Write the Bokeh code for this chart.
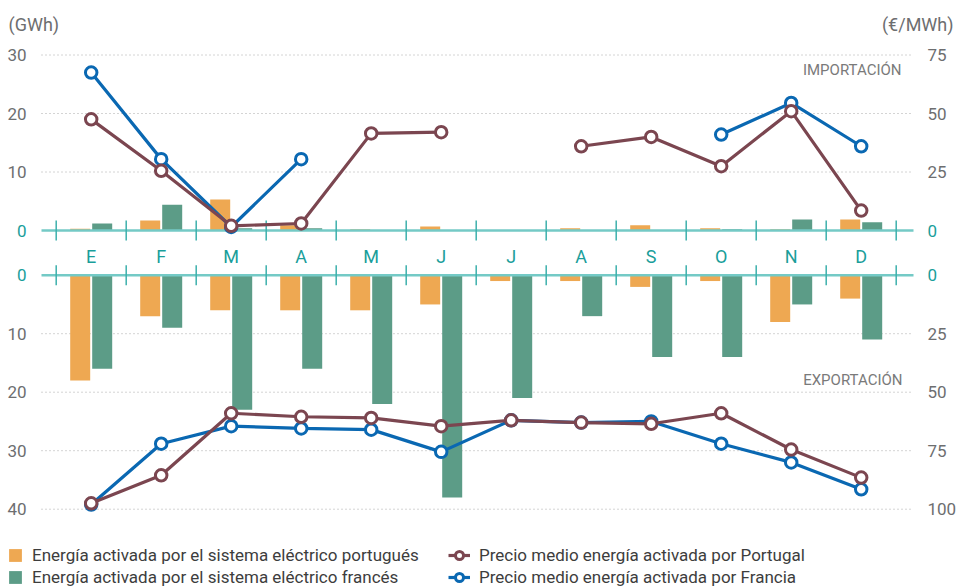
from bokeh.plotting import figure
from bokeh.models import Range1d, Legend, LegendItem, Label
from bokeh.core.properties import value
from bokeh.embed import file_html
from bokeh.resources import INLINE

nan = float("nan")

# ---------------- data ----------------
months = ["E", "F", "M", "A", "M", "J", "J", "A", "S", "O", "N", "D"]
# Importación (GWh)
imp_pt = [0.3, 1.7, 5.3, 0.9, 0.2, 0.7, 0.1, 0.4, 0.9, 0.4, 0.2, 1.9]
imp_fr = [1.2, 4.4, 0.4, 0.4, 0.0, 0.0, 0.0, 0.0, 0.0, 0.2, 1.9, 1.4]
# Exportación (GWh)
exp_pt = [18, 7, 6, 6, 6, 5, 1, 1, 2, 1, 8, 4]
exp_fr = [16, 9, 23, 16, 22, 38, 21, 7, 14, 14, 5, 11]
# Precio medio importación (€/MWh)
imp_price_pt = [47.5, 25.5, 2.0, 3.0, 41.5, 42.0, nan, 36.0, 40.0, 27.5, 51.0, 8.5]
imp_price_fr = [67.5, 30.5, 1.5, 30.5, nan, nan, nan, nan, nan, 41.0, 54.5, 36.0]
# Precio medio exportación (€/MWh)
exp_price_pt = [97.5, 85.5, 59.0, 60.5, 61.0, 64.5, 62.0, 63.0, 63.5, 59.0, 74.5, 86.5]
exp_price_fr = [98.0, 72.0, 64.5, 65.5, 66.0, 75.5, 62.0, 63.0, 62.5, 72.0, 80.0, 91.5]

gwh_ticks_top = [10, 20, 30]
gwh_ticks_bot = [10, 20, 30, 40]
eur_ticks_top = [25, 50, 75]
eur_ticks_bot = [25, 50, 75, 100]

legend_labels = [
    "Energía activada por el sistema eléctrico portugués",
    "Energía activada por el sistema eléctrico francés",
    "Precio medio energía activada por Portugal",
    "Precio medio energía activada por Francia",
]

# ---------------- styles ----------------
C_ORANGE = "#EEA852"
C_GREEN = "#5C9C87"
C_MAROON = "#7B4650"
C_BLUE = "#0A68B2"
C_TEAL_LINE = "#74CAC6"
C_TEAL_TICK = "#3DB0AC"
C_TEAL_TXT = "#1A9E9A"
C_GRAY = "#6D6E70"
C_GRID = "#A8A8A8"
FONT = "Roboto"

# ---------------- geometry (page px; frame = whole canvas) ----------------
W, H = 956, 587
LEFT, TOP = 0, 0
X0, PX_MONTH = 90.7, 70.0        # page x of first month centre, px per month
PLOT_L, PLOT_R = 41, 913         # extent of zero lines / grid lines
Z_TOP, Z_BOT = 230.0, 274.7      # page y of the two zero lines
S = 5.85                         # px per GWh
K = 2.5                          # €/MWh per GWh on the scale


def xd(px):
    return (px - X0) / PX_MONTH


def yt(py):
    return (Z_TOP - py) / S


x_start, x_end = xd(LEFT), xd(LEFT + W)
top_end, top_start = yt(TOP), yt(TOP + H)
bot_top = -(Z_BOT - TOP) / S
bot_bottom = (TOP + H - Z_BOT) / S

p = figure(width=W, height=H, output_backend="svg", toolbar_location=None,
           title=None, x_range=Range1d(x_start, x_end),
           y_range=Range1d(top_start, top_end),
           min_border_left=0, min_border_right=0,
           min_border_top=0, min_border_bottom=0,
           x_axis_location=None, y_axis_location=None)
p.extra_y_ranges = {
    "bot": Range1d(bot_bottom, bot_top),
    "ptop": Range1d(top_start * K, top_end * K),
    "pbot": Range1d(bot_bottom * K, bot_top * K),
}
p.outline_line_color = None
p.background_fill_color = "white"
p.border_fill_color = "white"
p.grid.visible = False

xl, xr = xd(PLOT_L), xd(PLOT_R)

# grid lines (dotted) at tick values
p.segment(x0=[xl] * len(gwh_ticks_top), x1=[xr] * len(gwh_ticks_top),
          y0=gwh_ticks_top, y1=gwh_ticks_top, line_color=C_GRID,
          line_width=1, line_dash="1 3")
p.segment(x0=[xl] * len(gwh_ticks_bot), x1=[xr] * len(gwh_ticks_bot),
          y0=gwh_ticks_bot, y1=gwh_ticks_bot, line_color=C_GRID,
          line_width=1, line_dash="1 3", y_range_name="bot")

# tick labels
tick_style = dict(text_font=value(FONT), text_font_size="17px", text_baseline="middle")
xlab_l, xlab_r = xd(26), xd(927)
p.text(x=[xlab_l] * 3, y=gwh_ticks_top, text=[str(v) for v in gwh_ticks_top],
       text_align="right", text_color=C_GRAY, **tick_style)
p.text(x=[xlab_l] * 4, y=gwh_ticks_bot, text=[str(v) for v in gwh_ticks_bot],
       text_align="right", text_color=C_GRAY, y_range_name="bot", **tick_style)
p.text(x=[xlab_r] * 3, y=eur_ticks_top, text=[str(v) for v in eur_ticks_top],
       text_align="left", text_color=C_GRAY, y_range_name="ptop", **tick_style)
p.text(x=[xlab_r] * 4, y=eur_ticks_bot, text=[str(v) for v in eur_ticks_bot],
       text_align="left", text_color=C_GRAY, y_range_name="pbot", **tick_style)
for rng in ("default", "bot"):
    p.text(x=[xlab_l], y=[0], text=["0"], text_align="right", text_color=C_TEAL_TXT,
           y_range_name=rng, **tick_style)
    p.text(x=[xlab_r], y=[0], text=["0"], text_align="left", text_color=C_TEAL_TXT,
           y_range_name=rng, **tick_style)

# bars
idx = list(range(len(months)))
BW = 20 / PX_MONTH
DX = 11 / PX_MONTH
xo = [i - DX for i in idx]
xg = [i + DX for i in idx]
r_bo = p.vbar(x=xo, top=imp_pt, bottom=0, width=BW, color=C_ORANGE, line_color=None)
r_bg = p.vbar(x=xg, top=imp_fr, bottom=0, width=BW, color=C_GREEN, line_color=None)
p.vbar(x=xo, top=exp_pt, bottom=0, width=BW, color=C_ORANGE, line_color=None, y_range_name="bot")
p.vbar(x=xg, top=exp_fr, bottom=0, width=BW, color=C_GREEN, line_color=None, y_range_name="bot")

# zero lines
for rng in ("default", "bot"):
    p.segment(x0=[xl], x1=[xr], y0=[0], y1=[0], line_color=C_TEAL_LINE,
              line_width=2.5, y_range_name=rng)

# month separators
seps = [i - 0.5 for i in idx] + [idx[-1] + 0.5]
hl = 10 / S
for rng in ("default", "bot"):
    p.segment(x0=seps, x1=seps, y0=[-hl] * len(seps), y1=[hl] * len(seps),
              line_color=C_TEAL_TICK, line_width=1.5, y_range_name=rng)

# month labels
p.text(x=idx, y=[yt(255.5)] * len(idx), text=months, text_font=value(FONT),
       text_font_size="18px", text_align="center", text_baseline="middle",
       text_color=C_TEAL_TXT)


# price lines
def price(vals, color, rng):
    rl_ = p.line(x=idx, y=vals, line_color=color, line_width=3.2, y_range_name=rng)
    rs_ = p.scatter(x=idx, y=vals, marker="circle", size=11.5, fill_color="white",
                    line_color=color, line_width=3, y_range_name=rng)
    return rl_, rs_


fr_top = price(imp_price_fr, C_BLUE, "ptop")
pt_top = price(imp_price_pt, C_MAROON, "ptop")
fr_bot = price(exp_price_fr, C_BLUE, "pbot")
pt_bot = price(exp_price_pt, C_MAROON, "pbot")

# units
p.add_layout(Label(x=xd(8), y=yt(24), text="(GWh)", text_align="left",
                   text_baseline="middle", text_font=FONT, text_font_size="18px",
                   text_color=C_GRAY))
p.add_layout(Label(x=xd(953), y=yt(24), text="(€/MWh)", text_align="right",
                   text_baseline="middle", text_font=FONT, text_font_size="18px",
                   text_color=C_GRAY))

# section tags
p.add_layout(Label(x=xd(901), y=yt(69), text="IMPORTACIÓN", text_align="right",
                   text_baseline="middle", text_font=FONT, text_font_size="15px",
                   text_color="#7A7A7A"))
p.add_layout(Label(x=xd(902), y=yt(379.5), text="EXPORTACIÓN", text_align="right",
                   text_baseline="middle", text_font=FONT, text_font_size="15px",
                   text_color="#7A7A7A"))

# legends
common = dict(label_text_font=FONT, label_text_font_size="17px",
              label_text_color="#3D3D3D", padding=0, margin=0,
              border_line_color=None, background_fill_alpha=0,
              label_standoff=9, orientation="vertical", label_height=16, spacing=2)
legA = Legend(items=[LegendItem(label=legend_labels[0], renderers=[r_bo]),
                     LegendItem(label=legend_labels[1], renderers=[r_bg])],
              glyph_width=16, glyph_height=16, location=(7, 0), **common)
legB = Legend(items=[LegendItem(label=legend_labels[2], renderers=[pt_top[0], pt_top[1]]),
                     LegendItem(label=legend_labels[3], renderers=[fr_top[0], fr_top[1]])],
              glyph_width=22, glyph_height=20, location=(448, 0), **common)
p.add_layout(legA)
p.add_layout(legB)

open("out.html", "w").write(file_html(p, INLINE))
